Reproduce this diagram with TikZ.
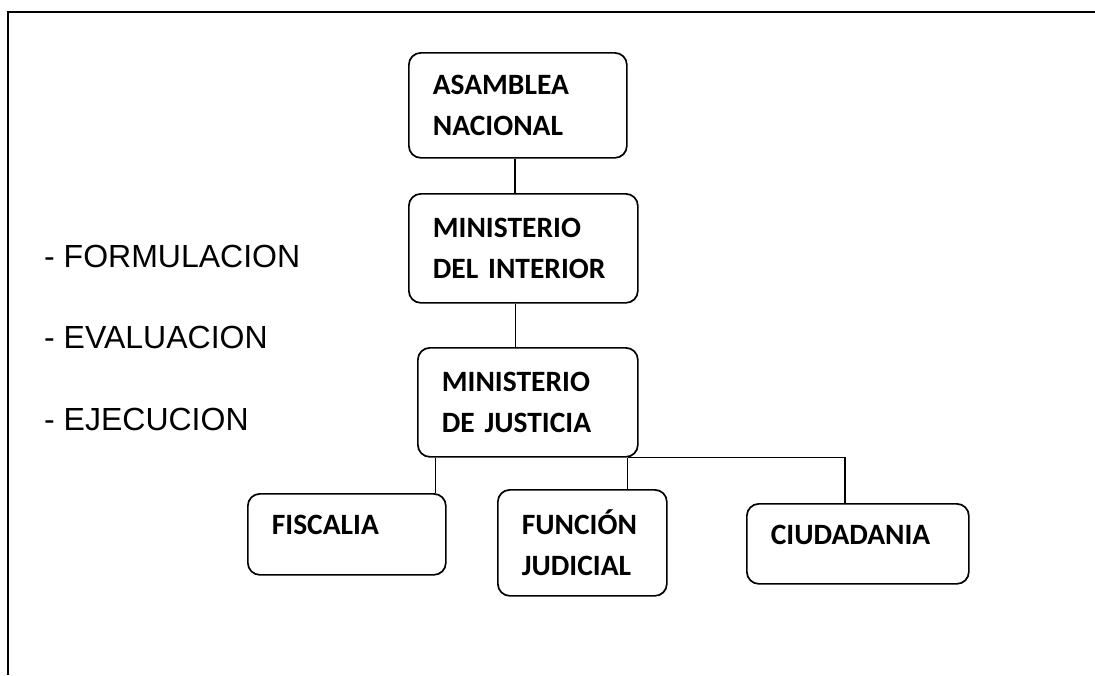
\documentclass[tikz,border=0pt]{standalone}
\usepackage{fontspec}
\setmainfont{Carlito}
\newfontfamily\listfont{Liberation Sans}
\newcommand\orgboxfont{\fontsize{29.5}{41}\selectfont\bfseries\spaceskip=0.2em\relax}
\usetikzlibrary{positioning}

\begin{document}
\begin{tikzpicture}[x=1pt,y=-1pt,
		orgbox/.style={draw,rounded corners=12pt,line width=1.7pt,anchor=north west,align=left,inner xsep=24pt,inner ysep=0pt,font=\orgboxfont},
		listitem/.style={anchor=base west,inner sep=0pt,font=\listfont\fontsize{32}{36}\selectfont},
		link/.style={line width=1.5pt}]
		\useasboundingbox (0,0) rectangle (1095,675);
		\draw[line width=1.8pt] (8,675) -- (8,12) -- (1095,12);

		\node[orgbox,text width=170pt,minimum height=105pt]					(asamblea)		at (408,52)		{ASAMBLEA\\NACIONAL};
		\node[orgbox,text width=181pt,minimum height=109pt]					(interior)		at (408,193)	{MINISTERIO\\DEL INTERIOR};
		\node[orgbox,text width=172pt,minimum height=109pt]					(justicia)		at (417,347)	{MINISTERIO\\DE JUSTICIA};
		\node[orgbox,text width=150pt,minimum height=81pt,text depth=19pt]	(fiscalia)		at (247,493)	{FISCALIA};
		\node[orgbox,text width=121pt,minimum height=106pt]					(funcion)		at (497,489)	{FUNCIÓN\\JUDICIAL};
		\node[orgbox,text width=174pt,minimum height=80pt,text depth=19pt]	(ciudadania)	at (746,503)	{CIUDADANIA};

		\node[listitem]		(formulacion)	at (44,267)		{- FORMULACION};
		\node[listitem]		(evaluacion)	at (44,348)		{- EVALUACION};
		\node[listitem]		(ejecucion)		at (44,430)		{- EJECUCION};

		\draw[link] ([xshift=-3pt]asamblea.south) -- ([xshift=-3pt]asamblea.south |- interior.north);
		\draw[link] ([xshift=-8pt]interior.south) -- ([xshift=-8pt]interior.south |- justicia.north);
		\draw[link] ([xshift=-11pt]fiscalia.north east) -- ([xshift=-11pt]fiscalia.north east |- justicia.south);
		\draw[link] ([xshift=-11pt]justicia.south east) -- ([xshift=-11pt]justicia.south east |- funcion.north);
		\draw[link] ([xshift=-11pt]justicia.south east) -| ([xshift=-13pt]ciudadania.north);
	\end{tikzpicture}
\end{document}
